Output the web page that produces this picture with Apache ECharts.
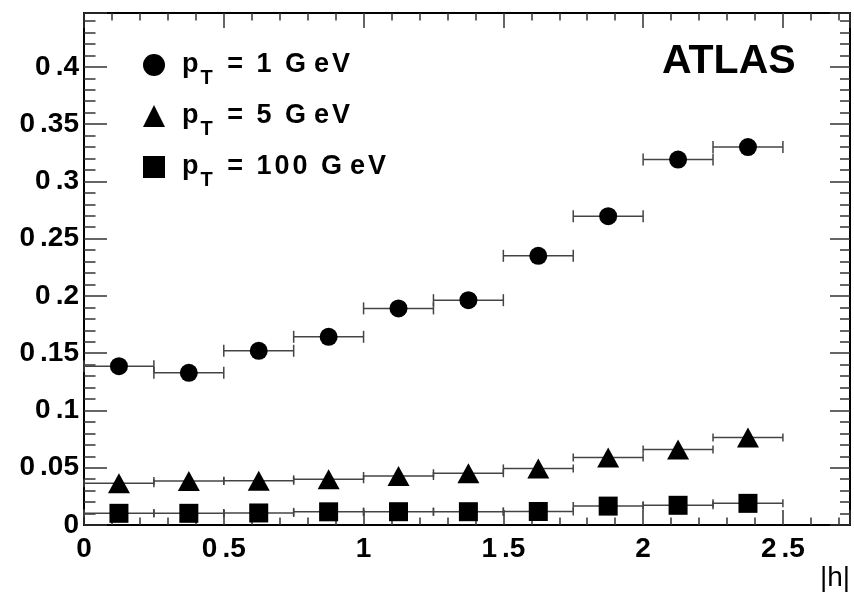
<!DOCTYPE html>
<html>
<head>
<meta charset="utf-8">
<script src="https://cdn.jsdelivr.net/npm/echarts@6/dist/echarts.min.js"></script>
<style>
  html, body { margin: 0; padding: 0; background: #fff; }
  #chart { width: 854px; height: 596px; }
</style>
</head>
<body>
<div id="chart"></div>
<script>
// bins in |eta|, each point drawn with a horizontal bar of +-half bin width
var etaCenters = [0.125, 0.375, 0.625, 0.875, 1.125, 1.375, 1.625, 1.875, 2.125, 2.375];
var binHalfWidth = 0.125;
var effPt1 = [0.1387, 0.1329, 0.1521, 0.1643, 0.1891, 0.1963, 0.235, 0.2696, 0.319, 0.330];
var effPt5 = [0.0364, 0.0384, 0.0386, 0.0399, 0.0428, 0.0452, 0.0494, 0.059, 0.066, 0.0765];
var effPt100 = [0.0102, 0.0102, 0.0105, 0.0115, 0.0116, 0.0116, 0.0118, 0.0165, 0.0172, 0.0189];

var seriesNames = ['pT1', 'pT5', 'pT100'];
var legendValues = ['1', '5', '100'];

var xTickLabels = ['0', '0.5', '1', '1.5', '2', '2.5'];
var yTickLabels = ['0', '0.05', '0.1', '0.15', '0.2', '0.25', '0.3', '0.35', '0.4'];

var FONT = 'Liberation Sans, Arial, Helvetica, sans-serif';
var INK = '#000';
var TICK = '#333';

function pairs(ys) {
  return etaCenters.map(function (x, i) { return [x, ys[i]]; });
}

// the original print leaves a gap before the decimal point ("0 .35")
function labelFrom(list, step) {
  return function (v) {
    var k = v / step;
    if (Math.abs(k - Math.round(k)) > 1e-6) return '';
    var s = list[Math.round(k)];
    if (s === undefined) return '';
    var i = s.indexOf('.');
    if (i < 0) return '{d|' + s + '}';
    return '{g|' + s.slice(0, i) + '}{d|' + s.slice(i) + '}';
  };
}

var tickRich = {
  d: { fontSize: 28, fontWeight: 'bold', fontFamily: FONT, color: INK },
  g: { fontSize: 28, fontWeight: 'bold', fontFamily: FONT, color: INK, padding: [0, 5, 0, 0] }
};

// horizontal error bar with small end caps
function errBar(capH) {
  return function (params, api) {
    var x = api.value(0), y = api.value(1);
    var a = api.coord([x - binHalfWidth, y]);
    var b = api.coord([x + binHalfWidth, y]);
    var st = { stroke: '#444', lineWidth: 1.5 };
    return {
      type: 'group',
      children: [
        { type: 'line', shape: { x1: a[0], y1: a[1], x2: b[0], y2: b[1] }, style: st },
        { type: 'line', shape: { x1: a[0], y1: a[1] - capH, x2: a[0], y2: a[1] + capH }, style: st },
        { type: 'line', shape: { x1: b[0], y1: b[1] - capH, x2: b[0], y2: b[1] + capH }, style: st }
      ]
    };
  };
}

function xAxis(pos, interval, len, withLabels, withLine) {
  return {
    type: 'value', position: pos, min: 0, max: 2.74, interval: interval,
    axisLine: { show: withLine, onZero: false, lineStyle: { color: INK, width: 2 } },
    axisTick: { show: true, inside: true, length: len, lineStyle: { color: TICK, width: 1.5 } },
    axisLabel: {
      show: withLabels, margin: 10, color: INK, fontFamily: FONT, fontSize: 28, fontWeight: 'bold',
      formatter: labelFrom(xTickLabels, 0.5), rich: tickRich
    },
    splitLine: { show: false }
  };
}

function yAxis(pos, interval, len, withLabels, withLine) {
  return {
    type: 'value', position: pos, min: 0, max: 0.447, interval: interval,
    axisLine: { show: withLine, onZero: false, lineStyle: { color: INK, width: 2 } },
    axisTick: { show: true, inside: true, length: len, lineStyle: { color: TICK, width: 1.5 } },
    axisLabel: {
      show: withLabels, margin: 5, color: INK, fontFamily: FONT, fontSize: 28, fontWeight: 'bold',
      formatter: labelFrom(yTickLabels, 0.05), rich: tickRich
    },
    splitLine: { show: false }
  };
}

// legend text, letter by letter so it can be spaced like the print
function spaced(str) {
  return str.split('').map(function (c) {
    if (c === ' ') return '{s| }';
    if (c === 'G') return '{w|G}';
    return '{r|' + c + '}';
  }).join('');
}

var chart = echarts.init(document.getElementById('chart'));

var option = {
  animation: false,
  backgroundColor: '#fff',
  grid: { left: 84, right: 4, top: 13, bottom: 71 },
  xAxis: [
    xAxis('bottom', 0.5, 15, true, true),
    xAxis('bottom', 0.1, 7.5, false, false),
    xAxis('top', 0.5, 15, false, true),
    xAxis('top', 0.1, 7.5, false, false)
  ],
  yAxis: [
    yAxis('left', 0.05, 23, true, true),
    yAxis('left', 0.01, 11.5, false, false),
    yAxis('right', 0.05, 20, false, true),
    yAxis('right', 0.01, 10, false, false)
  ],
  legend: {
    orient: 'vertical', left: 143, top: 42, itemGap: 5, padding: 0,
    itemWidth: 22, itemHeight: 22, selectedMode: false,
    data: [
      { name: seriesNames[0], icon: 'circle' },
      { name: seriesNames[1], icon: 'triangle' },
      { name: seriesNames[2], icon: 'rect' }
    ],
    formatter: function (name) {
      var v = legendValues[seriesNames.indexOf(name)];
      return '{p|p}{t|T}' + spaced(' = ' + v + ' GeV');
    },
    textStyle: {
      color: INK, fontFamily: FONT, fontWeight: 'bold',
      rich: {
        p: { fontSize: 27, fontWeight: 'bold', fontFamily: FONT, lineHeight: 40, padding: [0, 1, 0, 12] },
        t: { fontSize: 20, fontWeight: 'bold', fontFamily: FONT, lineHeight: 14, padding: [26, 4, 0, 1] },
        r: { fontSize: 27, fontWeight: 'bold', fontFamily: FONT, lineHeight: 40, padding: [0, 3, 0, 0] },
        w: { fontSize: 27, fontWeight: 'bold', fontFamily: FONT, lineHeight: 40, padding: [0, 8, 0, 0] },
        s: { fontSize: 27, fontWeight: 'bold', fontFamily: FONT, lineHeight: 40, padding: [0, 3, 0, 0] }
      }
    }
  },
  graphic: [
    {
      type: 'text', left: 662, top: 41,
      style: { text: 'ATLAS', fill: INK, font: 'bold 41px ' + FONT }
    },
    {
      type: 'text', right: 4, top: 564,
      style: { text: '|h|', fill: INK, font: '28px ' + FONT }
    }
  ],
  series: [
    { type: 'custom', renderItem: errBar(6), data: pairs(effPt1), z: 1, silent: true },
    { type: 'custom', renderItem: errBar(4), data: pairs(effPt5), z: 1, silent: true },
    { type: 'custom', renderItem: errBar(4), data: pairs(effPt100), z: 1, silent: true },
    {
      name: seriesNames[0], type: 'scatter', symbol: 'circle', symbolSize: 18,
      itemStyle: { color: INK, opacity: 1 }, data: pairs(effPt1), z: 3
    },
    {
      name: seriesNames[1], type: 'scatter', symbol: 'triangle', symbolSize: [22, 20],
      itemStyle: { color: INK, opacity: 1 }, data: pairs(effPt5), z: 3
    },
    {
      name: seriesNames[2], type: 'scatter', symbol: 'rect', symbolSize: 19,
      itemStyle: { color: INK, opacity: 1 }, data: pairs(effPt100), z: 3
    }
  ]
};

chart.setOption(option);
</script>
</body>
</html>
